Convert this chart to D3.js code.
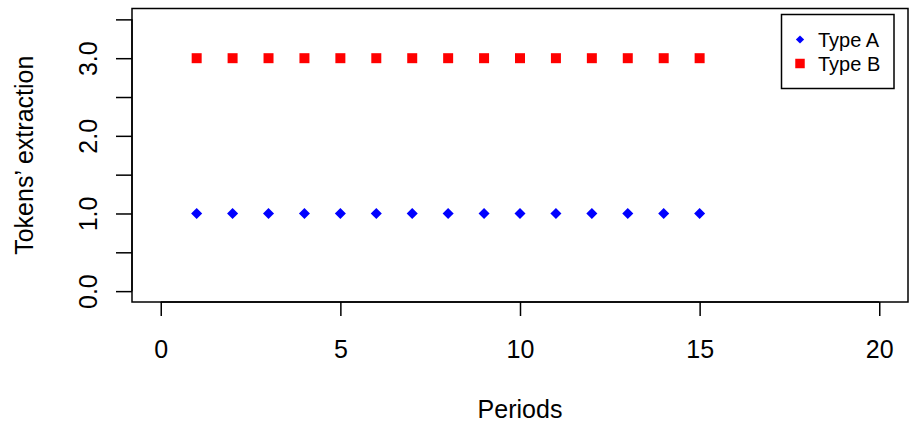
<!DOCTYPE html>
<html lang="en">
<head>
  <meta charset="UTF-8">
  <title>Tokens' extraction</title>
  <style>
    *{ margin:0; padding:0; box-sizing:border-box }
    html, body { width:100%; height:100%; background:#fff; overflow:hidden }
    svg { position:absolute; top:0; left:0 }
    text { font-family:"Liberation Sans", Arial, sans-serif; fill:#000 }
    .axis path, .axis line { stroke:#000; stroke-width:1.5 }
  </style>
</head>
<body>
  <svg id="chart"></svg>
  <script src="https://cdn.jsdelivr.net/npm/d3@7/dist/d3.min.js"></script>
  <script>
    // data
    const periods = [1,2,3,4,5,6,7,8,9,10,11,12,13,14,15];
    const typeA   = [1,1,1,1,1,1,1,1,1,1,1,1,1,1,1];
    const typeB   = [3,3,3,3,3,3,3,3,3,3,3,3,3,3,3];
    const xTicks  = [0,5,10,15,20];
    const yTicks  = [0,0.5,1,1.5,2,2.5,3,3.5];
    const yLabels = ["0.0","","1.0","","2.0","","3.0",""];
    const seriesNames = ["Type A","Type B"];

    const W = 911, H = 423,
          box = {l:132, r:908, t:8.5, b:302},
          fs = 25;

    const svg = d3.select("#chart").attr("width",W).attr("height",H);

    // R style 4% padding on limits
    const pad = (a,b)=>[a-(b-a)*0.04, b+(b-a)*0.04];
    const x = d3.scaleLinear().domain(pad(0,20)).range([box.l,box.r]),
          y = d3.scaleLinear().domain(pad(0,3.5)).range([box.b,box.t]);

    // x axis
    const xa = svg.append("g").attr("class","axis")
      .attr("transform",`translate(0,${box.b})`)
      .call(d3.axisBottom(x).tickValues(xTicks).tickSize(14).tickSizeOuter(0).tickPadding(25).tickFormat(d3.format("d")));
    xa.selectAll("text").attr("font-size",fs).attr("y",56).attr("dy","0");
    xa.select(".domain").attr("d",`M${x(0)},0H${x(20)}`);

    // y axis
    const ya = svg.append("g").attr("class","axis")
      .attr("transform",`translate(${box.l},0)`)
      .call(d3.axisLeft(y).tickValues(yTicks).tickSize(16).tickSizeOuter(0).tickFormat((d,i)=>yLabels[i]));
    ya.select(".domain").attr("d",`M0,${y(0)}V${y(3.5)}`);
    ya.selectAll("text")
      .attr("font-size",fs)
      .attr("text-anchor","middle")
      .attr("x",0).attr("dy",0)
      .attr("transform","translate(-35,0) rotate(-90)");

    // plot box
    svg.append("rect")
      .attr("x",box.l).attr("y",box.t)
      .attr("width",box.r-box.l).attr("height",box.b-box.t)
      .attr("fill","none").attr("stroke","#000").attr("stroke-width",1.5);

    // axis titles
    svg.append("text").attr("x",(box.l+box.r)/2).attr("y",418)
      .attr("text-anchor","middle").attr("font-size",fs).text("Periods");
    svg.append("text")
      .attr("transform",`translate(33,${(box.t+box.b)/2}) rotate(-90)`)
      .attr("text-anchor","middle").attr("font-size",fs).text("Tokens\u2019 extraction");

    // points
    const diamond = d3.symbol(d3.symbolSquare, 61),
          square  = d3.symbol(d3.symbolSquare, 100);
    svg.append("g").selectAll("path").data(periods).join("path")
      .attr("d",diamond)
      .attr("fill","#0000ff")
      .attr("transform",(d,i)=>`translate(${x(d)},${y(typeA[i])}) rotate(45)`);
    svg.append("g").selectAll("path").data(periods).join("path")
      .attr("d",square)
      .attr("fill","#ff0000")
      .attr("transform",(d,i)=>`translate(${x(d)},${y(typeB[i])})`);

    // legend
    const lg = svg.append("g");
    lg.append("rect").attr("x",781.5).attr("y",14.5).attr("width",112.5).attr("height",74)
      .attr("fill","#fff").attr("stroke","#000").attr("stroke-width",1.5);
    const ly = [39.5, 63.5];
    lg.append("path").attr("d",d3.symbol(d3.symbolSquare,34)())
      .attr("fill","#0000ff").attr("transform",`translate(800,${ly[0]}) rotate(45)`);
    lg.append("path").attr("d",d3.symbol(d3.symbolSquare,90)())
      .attr("fill","#ff0000").attr("transform",`translate(800,${ly[1]})`);
    lg.selectAll("text.lt").data(seriesNames).join("text")
      .attr("class","lt").attr("x",818).attr("y",(d,i)=>ly[i]+7)
      .attr("font-size",20).text(d=>d);
  </script>
</body>
</html>
